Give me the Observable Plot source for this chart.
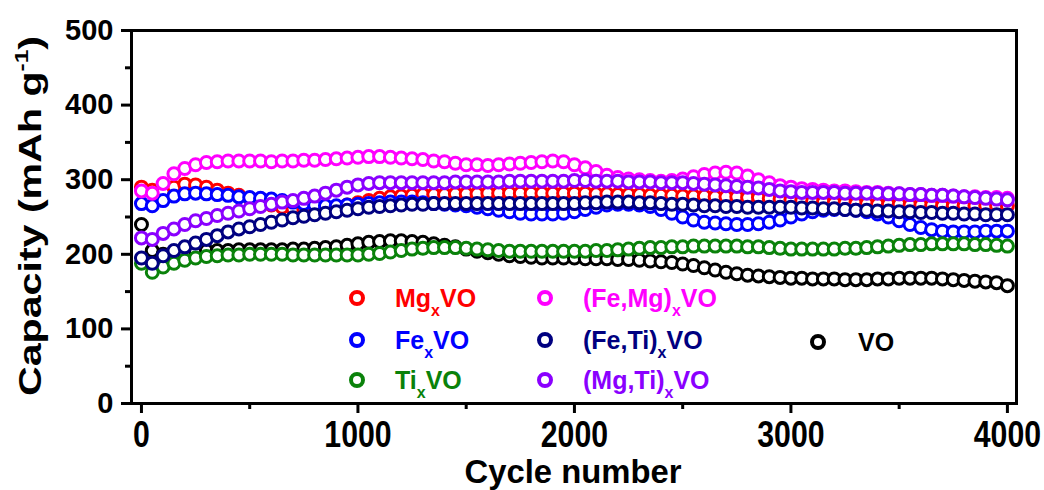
<!DOCTYPE html>
<html><head><meta charset="utf-8">
<script src="https://cdn.jsdelivr.net/npm/d3@7"></script>
<script src="https://cdn.jsdelivr.net/npm/@observablehq/plot@0.6"></script>
<style>
body{margin:0;background:#fff;}
#chart{position:relative;width:1044px;height:490px;}
</style></head><body><div id="chart"></div>
<script>
// ---- data ----
const cycles = [0,50,100,150,200,250,300,350,400,450,500,550,600,650,700,750,800,850,900,950,
1000,1050,1100,1150,1200,1250,1300,1350,1400,1450,1500,1550,1600,1650,1700,1750,1800,1850,1900,1950,
2000,2050,2100,2150,2200,2250,2300,2350,2400,2450,2500,2550,2600,2650,2700,2750,2800,2850,2900,2950,
3000,3050,3100,3150,3200,3250,3300,3350,3400,3450,3500,3550,3600,3650,3700,3750,3800,3850,3900,3950,4000];

const seriesNames = ["VO","Mg<sub>x</sub>VO","Fe<sub>x</sub>VO","Ti<sub>x</sub>VO","(Fe,Mg)<sub>x</sub>VO","(Fe,Ti)<sub>x</sub>VO","(Mg,Ti)<sub>x</sub>VO"];
const seriesColors = ["#000000","#ff0000","#0000ff","#0a820a","#ff00ff","#000080","#8a00ff"];

const VO = [240,205,200,200,202,204,205,205,205,206, 206,206,206,206,207,207,208,209,210,212,
214,216,217,218,218,217,216,214,212,210, 207,204,202,200,198,197,196,195,195,195,
195,194,194,194,193,193,192,191,190,189, 187,185,182,179,176,174,172,171,170,169,
168,168,167,167,167,166,166,166,167,167, 168,168,168,168,167,166,165,164,163,162, 158];
const MgVO = [290,286,284,290,294,293,290,286,282,279, 275,270,266,263,261,260,260,261,263,266,
269,272,275,277,278,279,280,280,280,281, 281,281,282,282,282,282,282,282,282,282,
282,282,281,281,280,280,280,279,279,279, 278,278,278,277,277,277,276,276,275,274,
273,272,271,270,269,269,268,268,267,267, 267,266,266,266,265,265,265,265,265,265, 265];
const FeVO = [268,265,272,278,281,282,281,280,279,277, 276,275,274,272,270,268,266,265,265,266,
267,268,269,270,270,270,269,268,267,266, 265,263,261,259,257,255,254,254,254,255,
257,260,263,266,267,267,266,264,260,255, 250,246,243,242,241,240,240,241,243,246,
250,254,257,259,260,260,259,257,254,250, 245,240,236,233,231,230,230,230,231,231, 231];
const TiVO = [188,176,183,188,192,195,197,198,199,199, 200,200,200,200,199,199,199,199,199,199,
199,200,201,203,205,207,208,209,209,209, 208,207,206,205,204,204,204,204,204,204,
204,204,205,205,206,207,208,209,209,210, 210,211,211,211,211,211,210,210,209,208,
207,207,207,207,207,208,208,209,210,211, 212,213,213,214,214,214,214,213,213,212, 211];
const FeMgVO = [285,282,295,308,315,320,323,324,325,325, 325,325,324,325,325,326,326,327,328,329,
330,331,331,330,329,328,327,325,324,322, 320,320,319,320,321,322,323,324,325,324,
320,316,311,306,303,301,300,299,298,299, 301,304,307,309,310,309,305,300,296,292,
290,288,287,286,285,285,284,283,283,282, 281,280,280,279,279,278,277,277,276,276, 275];
const FeTiVO = [195,188,198,205,210,215,220,225,230,234, 237,240,243,246,249,251,253,255,257,259,
261,263,264,265,266,267,267,268,268,268, 268,268,268,268,268,268,268,268,268,268,
268,269,269,270,270,270,269,269,268,267, 267,266,265,265,264,264,263,263,263,263,
263,262,262,261,261,260,259,259,258,258, 257,257,256,256,255,255,254,254,253,253, 253];
const MgTiVO = [222,220,228,234,240,245,248,252,255,258, 261,264,267,270,272,275,278,282,286,290,
293,295,296,296,296,296,296,296,296,297, 297,297,297,297,298,298,298,298,298,298,
299,299,298,298,298,297,297,297,296,296, 296,295,294,293,292,291,290,289,287,285,
284,283,283,283,283,282,282,282,282,281, 281,280,280,279,279,278,277,276,275,274, 273];

const seriesValues = [VO, MgVO, FeVO, TiVO, FeMgVO, FeTiVO, MgTiVO];

const yMajor = [0,100,200,300,400,500];
const yMinor = [50,150,250,350,450];
const xMajor = [0,1000,2000,3000,4000];
const xMinor = [500,1500,2500,3500];

// ---- table ----
const rows = [];
seriesValues.forEach((vals, si) => vals.forEach((v, i) => rows.push({series: si, cycle: cycles[i], cap: v})));

const font = "'Liberation Sans', Arial, sans-serif";

const dotMarks = seriesValues.map((_, si) =>
  Plot.dot(rows.filter(d => d.series === si), {
    x: "cycle", y: "cap", r: 6, stroke: seriesColors[si], strokeWidth: 3, fill: "white"
  })
);

const chart = Plot.plot({
  width: 1044, height: 490,
  marginLeft: 131, marginRight: 28, marginTop: 30, marginBottom: 87,
  x: {domain: [-46, 4042]},
  y: {domain: [0, 500]},
  style: {fontFamily: font, fontWeight: "bold", background: "white", color: "black", overflow: "visible"},
  marks: [
    ...dotMarks,
    Plot.frame({stroke: "black", strokeWidth: 3}),
    Plot.axisY({ticks: yMajor, tickSize: 10, tickPadding: 8, strokeWidth: 3, fontSize: 29, label: null, tickFormat: d => String(d)}),
    Plot.axisY({ticks: yMinor, tickSize: 6, strokeWidth: 3, tickFormat: () => "", label: null}),
    Plot.axisX({ticks: xMajor, tickSize: 10, tickPadding: 8, strokeWidth: 3, fontSize: 36, label: null, tickFormat: d => String(d)}),
    Plot.axisX({ticks: xMinor, tickSize: 6, strokeWidth: 3, tickFormat: () => "", label: null})
  ]
});
document.getElementById("chart").appendChild(chart);

const svg = d3.select(chart);
// condense x tick labels
svg.selectAll('g[aria-label="x-axis tick label"] text').each(function() {
  const w = this.getComputedTextLength();
  d3.select(this).attr("textLength", w * 0.84).attr("lengthAdjust", "spacingAndGlyphs");
});

// axis titles
const yt = svg.append("text")
  .attr("transform", "translate(41,216) rotate(-90)")
  .attr("text-anchor", "middle")
  .attr("font-family", font).attr("font-weight", "bold").attr("font-size", 32).attr("fill", "black");
yt.append("tspan").text("Capacity (mAh g");
yt.append("tspan").attr("font-size", 19).attr("dy", -13).text("-1");
yt.append("tspan").attr("dy", 13).text(")");
yt.attr("textLength", 360).attr("lengthAdjust", "spacingAndGlyphs");

const xt = svg.append("text")
  .attr("x", 573).attr("y", 483)
  .attr("text-anchor", "middle")
  .attr("font-family", font).attr("font-weight", "bold").attr("font-size", 34).attr("fill", "black")
  .text("Cycle number");
xt.attr("textLength", 217).attr("lengthAdjust", "spacingAndGlyphs");

// legend (layout positions)
const legendLayout = [
  {s: 1, cx: 357, cy: 298, tx: 395},
  {s: 2, cx: 357, cy: 340, tx: 395},
  {s: 3, cx: 357, cy: 380, tx: 395},
  {s: 4, cx: 545, cy: 298, tx: 583},
  {s: 5, cx: 545, cy: 340, tx: 583},
  {s: 6, cx: 545, cy: 380, tx: 583},
  {s: 0, cx: 818, cy: 342, tx: 858}
];
const lg = svg.append("g");
legendLayout.forEach(e => {
  const col = seriesColors[e.s];
  lg.append("circle").attr("cx", e.cx).attr("cy", e.cy).attr("r", 6)
    .attr("fill", "white").attr("stroke", col).attr("stroke-width", 4);
  const t = lg.append("text").attr("x", e.tx).attr("y", e.cy + 9)
    .attr("text-anchor", "start")
    .attr("font-family", font).attr("font-weight", "bold").attr("font-size", 25).attr("fill", col);
  const parts = seriesNames[e.s].split(/<sub>|<\/sub>/);
  if (parts.length === 1) { t.text(parts[0]); }
  else {
    t.append("tspan").text(parts[0]);
    t.append("tspan").attr("font-size", 16).attr("dy", 9).text(parts[1]);
    t.append("tspan").attr("dy", -9).text(parts[2]);
  }
});
</script></body></html>
